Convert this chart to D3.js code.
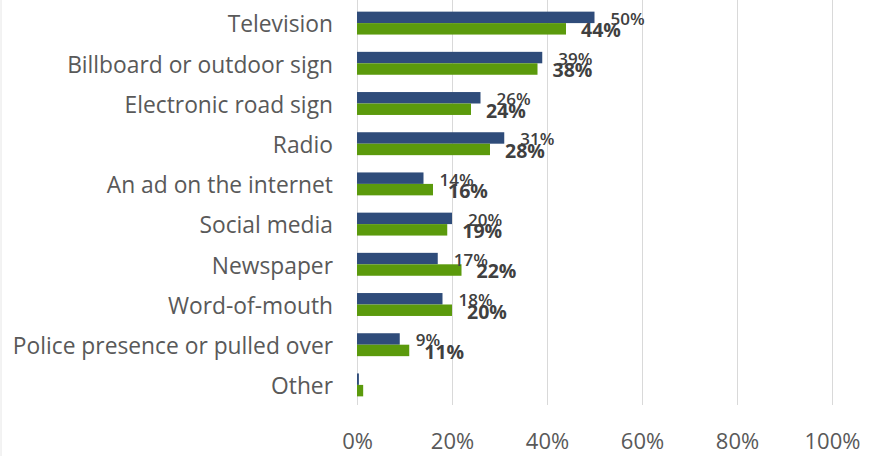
<!DOCTYPE html>
<html>
<head>
<meta charset="utf-8">
<script src="https://cdn.jsdelivr.net/npm/d3@7"></script>
<style>
  html, body { margin: 0; padding: 0; background: #fff; }
  svg { display: block; }
</style>
</head>
<body>
<svg id="chart" width="879" height="456"></svg>
<script>
// Where respondents heard the message, two survey waves
const categories = [
  "Television", "Billboard or outdoor sign", "Electronic road sign", "Radio",
  "An ad on the internet", "Social media", "Newspaper", "Word-of-mouth",
  "Police presence or pulled over", "Other"
];
const seriesA = [50, 39, 26, 31, 14, 20, 17, 18, 9, 0.4];
const seriesB = [44, 38, 24, 28, 16, 19, 22, 20, 11, 1.3];
const showLabel = [true, true, true, true, true, true, true, true, true, false];
const xTicks = [0, 20, 40, 60, 80, 100];

(function () {
const svg = d3.select("#chart");
const W = 879, H = 456;
const plotLeft = 357, plotRight = 832, plotTop = 3, plotBottom = 405;
const font = "'Open Sans', 'Noto Sans', sans-serif";

// faint frame on the left edge
svg.append("line").attr("x1", 1).attr("x2", 1).attr("y1", 0).attr("y2", H)
  .attr("stroke", "#e6e6e6").attr("stroke-width", 1);

const x = d3.scaleLinear().domain([0, 100]).range([plotLeft, plotRight]);
const y = d3.scaleBand().domain(categories).range([plotTop, plotBottom])
  .paddingInner(0.43).paddingOuter(0.215);
const sub = d3.scaleBand().domain(["a", "b"]).range([0, y.bandwidth()]);

// vertical gridlines
svg.append("g").selectAll("line").data(xTicks).join("line")
  .attr("x1", d => x(d) + 0.5).attr("x2", d => x(d) + 0.5)
  .attr("y1", 0).attr("y2", plotBottom)
  .attr("stroke", "#d9d9d9").attr("stroke-width", 1);

// x axis tick labels
const xAxis = d3.axisBottom(x).tickValues(xTicks).tickFormat(d => d + "%").tickSize(0);
const gx = svg.append("g").attr("transform", `translate(0, ${plotBottom + 25})`).call(xAxis);
gx.select(".domain").remove();
gx.selectAll("text").attr("font-family", font).attr("font-size", 22)
  .attr("fill", "#595959");

// category labels
const yAxis = d3.axisLeft(y).tickSize(0).tickPadding(0);
const gy = svg.append("g").attr("transform", `translate(${plotLeft - 24}, 2)`).call(yAxis);
gy.select(".domain").remove();
gy.selectAll("text").attr("font-family", font).attr("font-size", 22.8)
  .attr("fill", "#595959");

const rows = categories.map((c, i) => ({ c, a: seriesA[i], b: seriesB[i], show: showLabel[i] }));

const g = svg.append("g");
// first series bars (navy)
g.selectAll("rect.a").data(rows).join("rect").attr("class", "a")
  .attr("x", x(0)).attr("y", d => y(d.c) + sub("a"))
  .attr("width", d => x(d.a) - x(0)).attr("height", sub.bandwidth())
  .attr("fill", "#2F4C7A");
// second series bars (green)
g.selectAll("rect.b").data(rows).join("rect").attr("class", "b")
  .attr("x", x(0)).attr("y", d => y(d.c) + sub("b"))
  .attr("width", d => x(d.b) - x(0)).attr("height", sub.bandwidth())
  .attr("fill", "#5B9A0C");

// value labels, placed just past each bar end
g.selectAll("text.la").data(rows.filter(d => d.show)).join("text").attr("class", "la")
  .attr("x", d => x(d.a) + 16).attr("y", d => y(d.c) + sub("a") + sub.bandwidth() / 2 + 7.5)
  .attr("font-family", font).attr("font-size", 17).attr("font-weight", 600)
  .attr("fill", "#404040")
  .text(d => d3.format(".0f")(d.a) + "%");
g.selectAll("text.lb").data(rows.filter(d => d.show)).join("text").attr("class", "lb")
  .attr("x", d => x(d.b) + 15).attr("y", d => y(d.c) + sub("b") + sub.bandwidth() / 2 + 8.3)
  .attr("font-family", font).attr("font-size", 19.5).attr("font-weight", 700)
  .attr("fill", "#404040")
  .text(d => d3.format(".0f")(d.b) + "%");
})();
</script>
</body>
</html>
